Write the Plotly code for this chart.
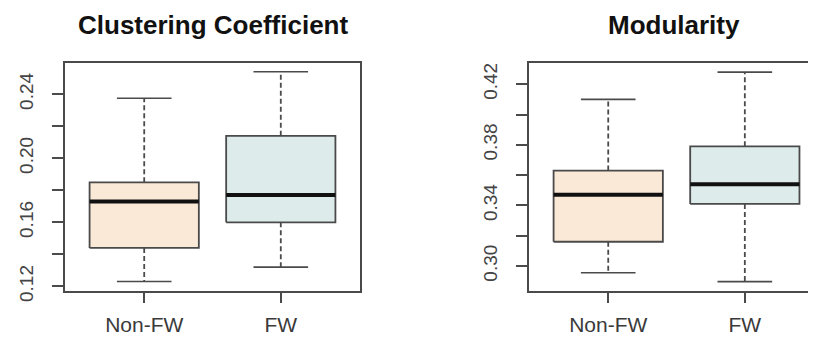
import plotly.graph_objects as go

# ---- data ----
groups = ["Non-FW", "FW"]

cc_min = [0.123, 0.132]
cc_q1 = [0.144, 0.160]
cc_med = [0.173, 0.177]
cc_q3 = [0.185, 0.214]
cc_max = [0.2375, 0.254]

mod_min = [0.2955, 0.2897]
mod_q1 = [0.316, 0.341]
mod_med = [0.347, 0.354]
mod_q3 = [0.363, 0.379]
mod_max = [0.410, 0.428]

cc_ticks = [0.12, 0.16, 0.20, 0.24]
mod_ticks = [0.30, 0.34, 0.38, 0.42]

titles = ["Clustering Coefficient", "Modularity"]
fills = ["#FAE9D7", "#DDEBEB"]

FONT = "Liberation Sans, Arial, sans-serif"
LINE = "#4a4a4a"

# the page body adds an 8px margin; size the figure to fill the rest of the window
OFF = 8
W, H = 816 - OFF, 341 - OFF

fig = go.Figure()


def add_panel(xa, ya, mins, q1s, meds, q3s, maxs):
    for i, g in enumerate(groups):
        p = i + 1
        # whiskers (dashed)
        fig.add_trace(go.Scatter(
            x=[p, p, None, p, p], y=[q3s[i], maxs[i], None, q1s[i], mins[i]],
            mode="lines", line=dict(color=LINE, width=1.8, dash="5px,3px"),
            xaxis=xa, yaxis=ya, showlegend=False, hoverinfo="skip"))
        # staples
        fig.add_trace(go.Scatter(
            x=[p - 0.2, p + 0.2, None, p - 0.2, p + 0.2],
            y=[maxs[i], maxs[i], None, mins[i], mins[i]],
            mode="lines", line=dict(color=LINE, width=1.6),
            xaxis=xa, yaxis=ya, showlegend=False, hoverinfo="skip"))
        # box
        fig.add_trace(go.Scatter(
            x=[p - 0.4, p + 0.4, p + 0.4, p - 0.4, p - 0.4],
            y=[q1s[i], q1s[i], q3s[i], q3s[i], q1s[i]],
            mode="lines", fill="toself", fillcolor=fills[i],
            line=dict(color=LINE, width=1.8),
            xaxis=xa, yaxis=ya, showlegend=False, name=g))
        # median
        fig.add_trace(go.Scatter(
            x=[p - 0.4, p + 0.4], y=[meds[i], meds[i]],
            mode="lines", line=dict(color="#111111", width=4),
            xaxis=xa, yaxis=ya, showlegend=False, hoverinfo="skip"))


add_panel("x", "y", cc_min, cc_q1, cc_med, cc_q3, cc_max)
add_panel("x2", "y2", mod_min, mod_q1, mod_med, mod_q3, mod_max)

# screen-pixel positions of the plot frames, converted to figure fractions
def fx(px):
    return (px - OFF) / W

def fy(py):
    return (H - (py - OFF)) / H

ydom = [fy(291), fy(63)]

xcommon = dict(
    tickmode="array", tickvals=[1, 2], ticktext=groups,
    ticks="outside", ticklen=10, tickwidth=1.5, tickcolor=LINE,
    showline=True, linecolor=LINE, linewidth=1.6,
    showgrid=False, zeroline=False, fixedrange=True, automargin=False,
    tickfont=dict(family=FONT, size=21, color="#3a3a3a"),
    ticklabelstandoff=4,
)
ycommon = dict(
    ticks="outside", ticklen=11, tickwidth=1.5, tickcolor=LINE,
    showline=True, linecolor=LINE, linewidth=1.6, automargin=False,
    showgrid=False, zeroline=False, tickformat=".2f", tickangle=-90,
    tickfont=dict(family=FONT, size=19, color="#444444"),
    ticklabelstandoff=12,
    minor=dict(dtick=0.02, ticks="outside", ticklen=11, tickwidth=1.5,
               tickcolor=LINE, showgrid=False),
)

fig.update_layout(
    width=W, height=H,
    margin=dict(l=0, r=0, t=0, b=0),
    paper_bgcolor="white", plot_bgcolor="white",
    showlegend=False,
    xaxis=dict(domain=[fx(65), fx(360)], range=[0.42, 2.58], mirror=True, **xcommon),
    yaxis=dict(domain=ydom, range=[0.1171, 0.2595], tickvals=cc_ticks,
               mirror=True, anchor="x", **ycommon),
    xaxis2=dict(domain=[fx(529), 1.0], range=[0.42, 0.42 + 287 / 136.6],
                mirror=True, anchor="y2", **xcommon),
    yaxis2=dict(domain=ydom, range=[0.2835, 0.434], tickvals=mod_ticks,
                mirror=False, anchor="x2", **ycommon),
    annotations=[
        dict(text="<b>%s</b>" % titles[0], x=fx(212.5), y=1.0,
             xref="paper", yref="paper", xanchor="center", yanchor="top",
             showarrow=False, font=dict(family=FONT, size=26, color="#111111")),
        dict(text="<b>%s</b>" % titles[1], x=fx(674), y=1.0,
             xref="paper", yref="paper", xanchor="center", yanchor="top",
             showarrow=False, font=dict(family=FONT, size=26, color="#111111")),
    ],
)

fig.write_html("out.html")
